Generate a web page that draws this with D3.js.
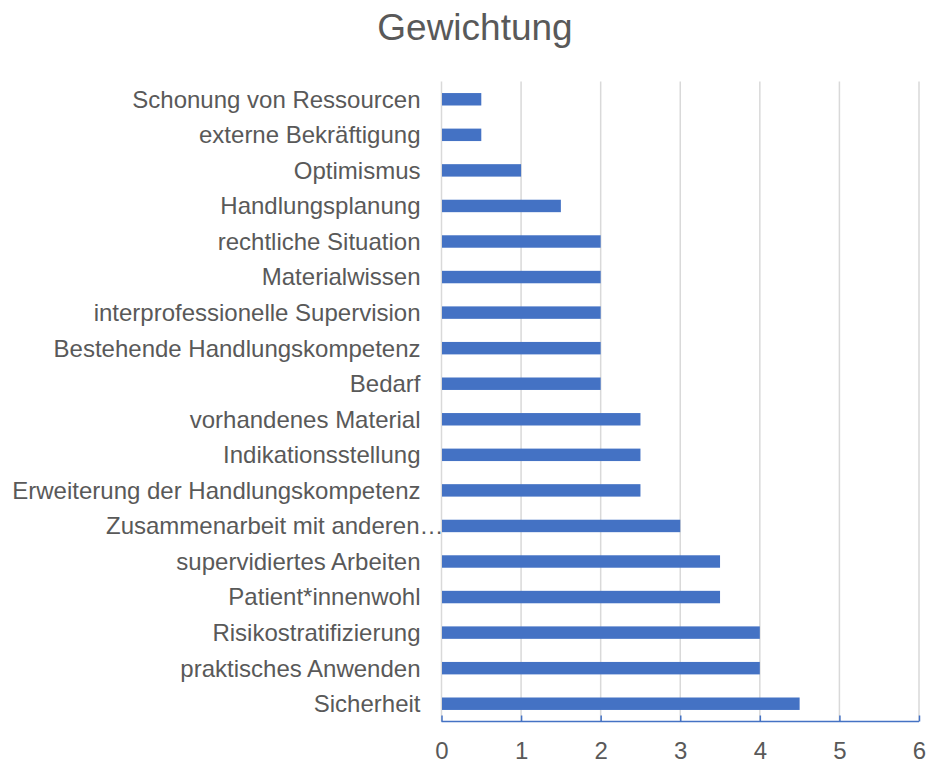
<!DOCTYPE html>
<html>
<head>
<meta charset="utf-8">
<script src="https://cdn.jsdelivr.net/npm/d3@7"></script>
<style>
  body { margin: 0; background: #fff; }
  svg text { font-family: "Liberation Sans", Arial, sans-serif; fill: #595959; }
</style>
</head>
<body>
<svg width="928" height="763"></svg>
<script>
// categories top to bottom
var categories = [
  "Schonung von Ressourcen",
  "externe Bekräftigung",
  "Optimismus",
  "Handlungsplanung",
  "rechtliche Situation",
  "Materialwissen",
  "interprofessionelle Supervision",
  "Bestehende Handlungskompetenz",
  "Bedarf",
  "vorhandenes Material",
  "Indikationsstellung",
  "Erweiterung der Handlungskompetenz",
  "Zusammenarbeit mit anderen…",
  "supervidiertes Arbeiten",
  "Patient*innenwohl",
  "Risikostratifizierung",
  "praktisches Anwenden",
  "Sicherheit"
];
var values = [0.5, 0.5, 1, 1.5, 2, 2, 2, 2, 2, 2.5, 2.5, 2.5, 3, 3.5, 3.5, 4, 4, 4.5];
var xTicks = [0, 1, 2, 3, 4, 5, 6];

var svg = d3.select("svg"),
    margin = {top: 81.5, right: 9, bottom: 41.5, left: 441.5},
    width = +svg.attr("width") - margin.left - margin.right,
    height = +svg.attr("height") - margin.top - margin.bottom;

var x = d3.scaleLinear().domain([0, 6]).range([0, width]);
var y = d3.scaleBand().domain(categories).range([0, height]).paddingInner(0.65).paddingOuter(0.325);

svg.append("text")
    .attr("x", 475)
    .attr("y", 40)
    .attr("text-anchor", "middle")
    .style("font-size", "37px")
    .text("Gewichtung");

var g = svg.append("g")
    .attr("transform", "translate(" + margin.left + "," + margin.top + ")");

// gridlines
g.selectAll(".grid")
    .data(xTicks)
    .enter().append("line")
    .attr("x1", function(d) { return x(d); })
    .attr("x2", function(d) { return x(d); })
    .attr("y1", 0)
    .attr("y2", height)
    .attr("stroke", "#d9d9d9")
    .attr("stroke-width", 1.5);

// bars
g.selectAll(".bar")
    .data(values)
    .enter().append("rect")
    .attr("class", "bar")
    .attr("x", 0.5)
    .attr("y", function(d, i) { return y(categories[i]); })
    .attr("width", function(d) { return x(d) - 0.5; })
    .attr("height", y.bandwidth())
    .attr("fill", "#4472c4");

// category labels (truncated label runs up to the axis, like excel does)
g.selectAll(".cat")
    .data(categories)
    .enter().append("text")
    .attr("x", function(d) { return d.slice(-1) == "…" ? 2 : -21; })
    .attr("y", function(d) { return y(d) + y.bandwidth() / 2; })
    .attr("dy", "0.35em")
    .attr("text-anchor", "end")
    .style("font-size", "24px")
    .text(function(d) { return d; });

// x axis
var xAxis = d3.axisBottom(x).tickValues(xTicks).tickSize(0).tickFormat(d3.format("d"));
var ax = g.append("g")
    .attr("transform", "translate(0," + height + ")")
    .call(xAxis);
ax.select(".domain").remove();
ax.append("line")
    .attr("x1", 0).attr("x2", width)
    .attr("stroke", "#4472c4")
    .attr("stroke-width", 1.5);
ax.selectAll(".tick").append("line")
    .attr("y1", -6).attr("y2", 0)
    .attr("stroke", "#4472c4")
    .attr("stroke-width", 1.5);
ax.selectAll(".tick text")
    .attr("y", 37)
    .attr("dy", 0)
    .style("font-size", "24px")
    .style("font-family", "'Liberation Sans', Arial, sans-serif")
    .attr("fill", "#595959");
</script>
</body>
</html>
